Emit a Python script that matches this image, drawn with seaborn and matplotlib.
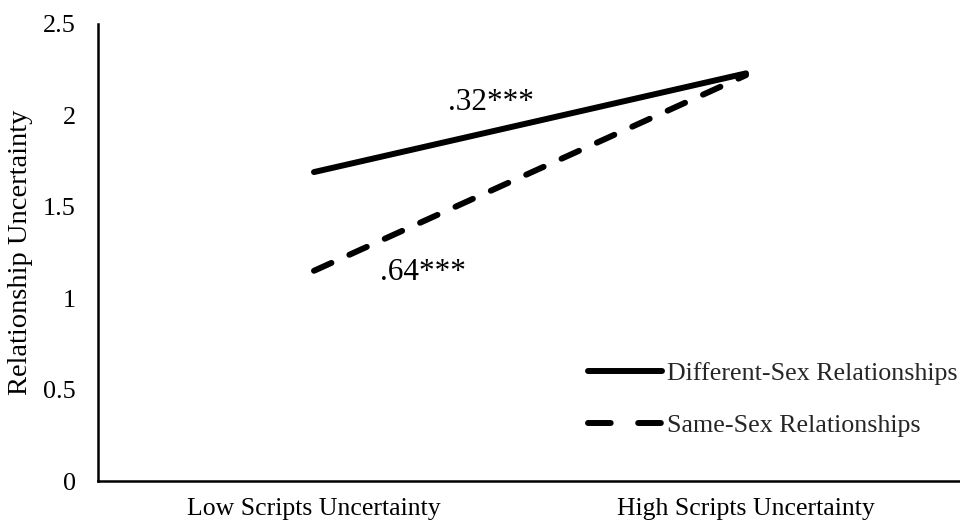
import matplotlib
matplotlib.use("Agg")
import matplotlib.pyplot as plt
from matplotlib.lines import Line2D
import seaborn as sns
import pandas as pd

categories = ["Low Scripts Uncertainty", "High Scripts Uncertainty"]
different_sex = [1.69, 2.23]
same_sex = [1.15, 2.22]
series_names = ["Different-Sex Relationships", "Same-Sex Relationships"]
yticks = [0, 0.5, 1, 1.5, 2, 2.5]
ytick_labels = ["0", "0.5", "1", "1.5", "2", "2.5"]
annotations = [(".32***", 0.41, 2.07), (".64***", 0.252, 1.14)]

sns.set_theme(style="white")
plt.rcParams["font.family"] = ["Liberation Serif", "DejaVu Serif"]

df = pd.DataFrame({
    "Scripts": categories * 2,
    "Uncertainty": different_sex + same_sex,
    "Group": [series_names[0]] * 2 + [series_names[1]] * 2,
})

LW = 4.3
fig = plt.figure(figsize=(9.6, 5.24), dpi=100)
ax = fig.add_axes([98 / 960, 1 - 481 / 524, 864 / 960, 457 / 524])

sns.lineplot(
    data=df, x="Scripts", y="Uncertainty", hue="Group", style="Group",
    palette={series_names[0]: "black", series_names[1]: "black"},
    dashes={series_names[0]: "", series_names[1]: (3.2, 3.3)},
    linewidth=LW, ax=ax, sort=False, legend=False,
)
for ln in ax.lines:
    ln.set_solid_capstyle("round")
    ln.set_dash_capstyle("round")

ax.set_xlim(-0.5, 1.5)
ax.set_ylim(0, 2.5)
ax.set_yticks(yticks)
ax.set_yticklabels(ytick_labels)
ax.tick_params(axis="both", length=0, colors="black")
ax.tick_params(axis="y", pad=16, labelsize=18.8)
ax.tick_params(axis="x", pad=12, labelsize=18.5)
ax.set_xlabel("")
ax.set_ylabel("Relationship Uncertainty", fontsize=20.5, color="black")
ax.yaxis.set_label_coords(-0.075, 0.5)

for side in ["top", "right"]:
    ax.spines[side].set_visible(False)
for side in ["left", "bottom"]:
    ax.spines[side].set_color("black")
    ax.spines[side].set_linewidth(1.8)

for txt, x, y in annotations:
    ax.text(x, y, txt, fontsize=22.5, ha="center", va="center", color="black")

handles = [
    Line2D([], [], color="black", lw=LW, solid_capstyle="round"),
    Line2D([], [], color="black", lw=LW, dashes=(3.8, 4.6), dash_capstyle="round"),
]
leg = ax.legend(
    handles=handles, labels=series_names, loc="upper left",
    bbox_to_anchor=(588 / 960, 1 - 362 / 524), bbox_transform=fig.transFigure,
    frameon=False, fontsize=18.7, handlelength=2.85, handletextpad=0.2,
    borderpad=0, borderaxespad=0, labelspacing=1.1,
)

fig.savefig("out.png", dpi=100)
